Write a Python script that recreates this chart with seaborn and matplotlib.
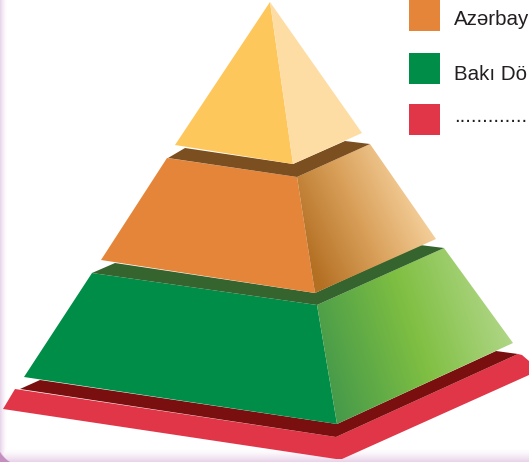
import numpy as np
import matplotlib
matplotlib.use("Agg")
import matplotlib.pyplot as plt
from matplotlib.colors import LinearSegmentedColormap
from matplotlib.patches import Polygon
import seaborn as sns

sns.set_style("white")
plt.rcParams['font.family'] = ['Liberation Sans', 'DejaVu Sans']

# legend (the reference is cropped at its right edge)
legend_labels = ["Azərbay", "Bakı Dö", "............."]
legend_colors = ["#E5853A", "#008D47", "#E03648"]
legend_y = [15, 68.5, 119.5]
legend_base = [25, 80, 122]

# pyramid faces (picture outline)
apex_left = [(270, 2), (175, 145), (293, 164)]
apex_right = [(270, 2), (362, 133), (293, 164)]
shadow_top = [(168, 158), (185, 148), (293, 164), (345, 141), (370, 144), (297, 177)]
mid_left = [(167, 158), (297, 177), (315, 293), (101, 260)]
mid_right = [(297, 177), (370, 144), (436, 239), (315, 293)]
shadow_mid = [(92, 273), (115, 263), (315, 293), (420, 245), (444, 248), (317, 305)]
low_left = [(92, 273), (317, 305), (337, 424), (24, 377)]
low_right = [(317, 305), (444, 248), (513, 343), (337, 424)]
shadow_base = [(20, 389), (40, 380), (337, 424), (496, 351), (518, 354), (336, 437)]
base = [(15, 389), (336, 437), (518, 354), (522, 355), (529, 361), (529, 375),
        (342, 459), (336, 459), (3, 409)]

W, H = 529, 462
fig, ax = plt.subplots(figsize=(W / 100, H / 100), dpi=100)
fig.subplots_adjust(0, 0, 1, 1)
ax.axis("off")

# page frame
xx, yy = np.meshgrid(np.arange(W) + .5, np.arange(H) + .5)
ex = np.clip((7 - xx) / 7, 0, 1)
ey = np.clip((yy - 449) / 13, 0, 1)
edge = np.maximum(ex, ey) ** 1.4
d = np.hypot(np.clip(22 - xx, 0, None), np.clip(yy - 440, 0, None))
corner = np.clip((d - 23.5) / 2, 0, 1)
frame = LinearSegmentedColormap.from_list("f", ["#FFFFFF", "#E8D2E8", "#C48FC0"])
ax.imshow(np.maximum(0.5 * edge, corner), cmap=frame, vmin=0, vmax=1,
          extent=(0, W, H, 0), aspect="auto", zorder=0, interpolation="bilinear")


def flat(pts, color, z):
    ax.add_patch(Polygon(pts, closed=True, fc=color, ec="none", zorder=z))


def shaded(pts, colors, p0, p1, z):
    p = Polygon(pts, closed=True, fc="none", ec="none", zorder=z)
    ax.add_patch(p)
    a, b = np.array(p0, float), np.array(p1, float)
    v = b - a
    t = ((xx - a[0]) * v[0] + (yy - a[1]) * v[1]) / (v @ v)
    im = ax.imshow(np.clip(t, 0, 1), cmap=LinearSegmentedColormap.from_list("g", colors),
                   vmin=0, vmax=1, extent=(0, W, H, 0), aspect="auto", zorder=z)
    im.set_clip_path(p)


flat(base, "#E03648", 2)
flat(shadow_base, "#7A0F10", 3)
flat(low_left, "#008D47", 4)
shaded(low_right, ["#469A4A", "#7FBF42", "#B4D88C"], (325, 380), (515, 320), 4)
flat(shadow_mid, "#36642F", 5)
flat(mid_left, "#E5853A", 6)
shaded(mid_right, ["#B36F22", "#D9A05A", "#F6D29E"], (312, 270), (430, 215), 6)
flat(shadow_top, "#7B4F1F", 7)
flat(apex_left, "#FDC75B", 8)
flat(apex_right, "#FEDDA5", 8)

# legend swatches
sns.scatterplot(x=[424.5] * 3, y=legend_y, hue=legend_labels, palette=legend_colors,
                marker="s", s=500, linewidth=0, legend=False, ax=ax, zorder=9)
for y, label in zip(legend_base, legend_labels):
    ax.text(454, y, label, fontsize=14.8, color="#231F20", va="baseline", ha="left", zorder=10)

ax.set_xlim(0, W)
ax.set_ylim(H, 0)
fig.savefig("out.png", dpi=100)
